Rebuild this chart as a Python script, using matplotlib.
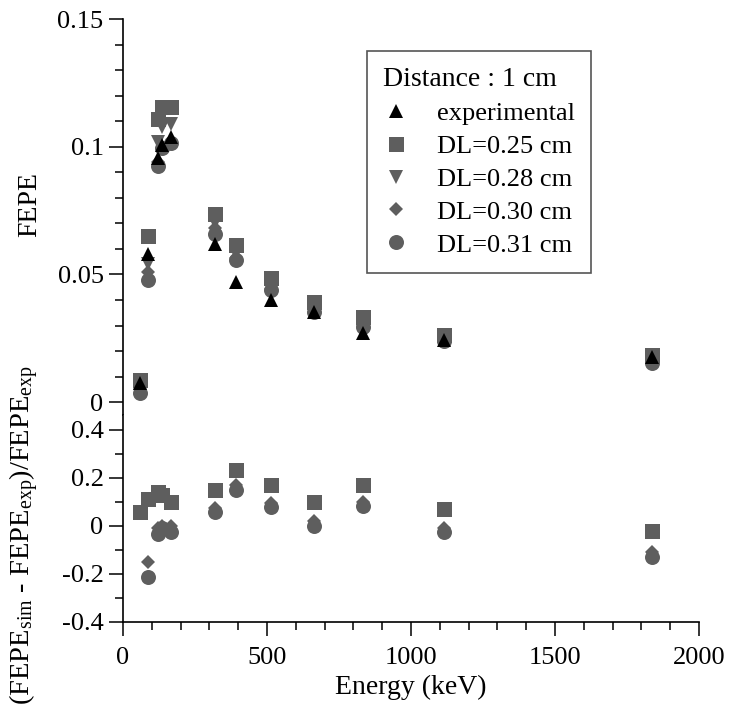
import numpy as np
import matplotlib
matplotlib.use("Agg")
import matplotlib.pyplot as plt
from matplotlib.ticker import FixedLocator, MultipleLocator, FuncFormatter

plt.rcParams['font.family'] = ['Liberation Serif', 'DejaVu Serif']
plt.rcParams['mathtext.fontset'] = 'custom'
plt.rcParams['mathtext.rm'] = 'Liberation Serif'
plt.rcParams['mathtext.it'] = 'Liberation Serif:italic'
plt.rcParams['axes.unicode_minus'] = False

# ---------------- data ----------------
energy = [59.5, 88, 122, 136, 166, 320, 392, 514, 662, 835, 1115, 1836]

fepe_exp = [0.0074, 0.058, 0.0956, 0.1007, 0.1038, 0.062, 0.047, 0.040, 0.0353, 0.027, 0.0243, 0.0177]
fepe_025 = [0.0086, 0.065, 0.1108, 0.1156, 0.1156, 0.0736, 0.0615, 0.0486, 0.0392, 0.0333, 0.0262, 0.0184]
fepe_028 = [0.0060, 0.054, 0.1020, 0.1077, 0.1090, 0.0700, 0.0580, 0.0460, 0.0375, 0.0305, 0.0250, 0.0165]
fepe_030 = [0.0050, 0.051, 0.0940, 0.0995, 0.1020, 0.0680, 0.0565, 0.0445, 0.0365, 0.0300, 0.0245, 0.0160]
fepe_031 = [0.0035, 0.048, 0.0924, 0.0995, 0.1014, 0.0660, 0.0556, 0.0439, 0.0355, 0.0295, 0.0240, 0.0153]

rel_025 = [0.058, 0.1125, 0.14, 0.13, 0.10, 0.15, 0.233, 0.17, 0.10, 0.17, 0.07, -0.02]
rel_030 = [-0.50, -0.15, -0.01, 0.0, 0.0, 0.075, 0.17, 0.095, 0.02, 0.10, -0.01, -0.11]
rel_031 = [-0.55, -0.213, -0.035, -0.01, -0.025, 0.058, 0.15, 0.08, 0.0, 0.085, -0.025, -0.13]

labels = ['experimental', 'DL=0.25 cm', 'DL=0.28 cm', 'DL=0.30 cm', 'DL=0.31 cm']
legend_title = 'Distance : 1 cm'

x_ticks = [0, 500, 1000, 1500, 2000]
top_ticks = [0, 0.05, 0.1, 0.15]
bot_ticks = [-0.4, -0.2, 0, 0.2, 0.4]

# ---------------- figure ----------------
W, H = 729, 715
fig = plt.figure(figsize=(W / 100, H / 100), dpi=100)

def rect(l, t, r, b):
    return [l / W, 1 - b / H, (r - l) / W, (b - t) / H]

ax1 = fig.add_axes(rect(123, 19, 699, 415))
ax2 = fig.add_axes(rect(123, 415, 699, 622), sharex=ax1)

grey = '#5e5e5e'
ms_sq, ms_tri, ms_d, ms_o = 10.8, 9.8, 7.0, 10.8

h25, = ax1.plot(energy, fepe_025, 's', color=grey, ms=ms_sq, mew=0, ls='none')
h28, = ax1.plot(energy, fepe_028, 'v', color=grey, ms=ms_tri, mew=0, ls='none')
h30, = ax1.plot(energy, fepe_030, 'D', color=grey, ms=ms_d, mew=0, ls='none')
h31, = ax1.plot(energy, fepe_031, 'o', color=grey, ms=ms_o, mew=0, ls='none')
hex_, = ax1.plot(energy, fepe_exp, '^', color='black', ms=ms_tri, mew=0, ls='none')

ax2.plot(energy, rel_025, 's', color=grey, ms=ms_sq, mew=0, ls='none')
ax2.plot(energy, rel_030, 'D', color=grey, ms=ms_d, mew=0, ls='none')
ax2.plot(energy, rel_031, 'o', color=grey, ms=ms_o, mew=0, ls='none')

ax1.set_xlim(0, 2000)
ax1.set_ylim(-0.005, 0.15)
ax2.set_ylim(-0.4, 0.4625)

fmt = FuncFormatter(lambda v, p: ('%g' % round(v, 4)))

for ax in (ax1, ax2):
    ax.spines['top'].set_visible(False)
    ax.spines['right'].set_visible(False)
    ax.spines['left'].set_linewidth(1.2)
    ax.spines['bottom'].set_linewidth(1.2)
    ax.tick_params(which='major', direction='out', length=10, width=1.1,
                   labelsize=19, pad=4)
    ax.tick_params(which='minor', direction='out', length=5.5, width=1.1)

ax1.spines['bottom'].set_visible(False)
ax1.tick_params(axis='x', which='both', bottom=False, labelbottom=False)

ax1.yaxis.set_major_locator(FixedLocator(top_ticks))
ax1.yaxis.set_minor_locator(MultipleLocator(0.01))
ax1.yaxis.set_major_formatter(fmt)

ax2.yaxis.set_major_locator(FixedLocator(bot_ticks))
ax2.yaxis.set_minor_locator(MultipleLocator(0.1))
ax2.yaxis.set_major_formatter(fmt)

ax2.xaxis.set_major_locator(FixedLocator(x_ticks))
ax2.xaxis.set_minor_locator(MultipleLocator(100))
ax2.xaxis.set_major_formatter(fmt)
ax2.tick_params(axis='x', which='major', pad=8)

ax2.set_xlabel('Energy (keV)', fontsize=20, labelpad=4)

fig.text(30 / W, 1 - 205 / H, 'FEPE', rotation=90, ha='center', va='center', fontsize=20)
fig.text(24 / W, 1 - 535 / H,
         r'(FEPE$_{\mathrm{sim}}$ - FEPE$_{\mathrm{exp}}$)/FEPE$_{\mathrm{exp}}$',
         rotation=90, ha='center', va='center', fontsize=20.5)

leg = ax1.legend([hex_, h25, h28, h30, h31], labels, title=legend_title,
                 loc='upper left', bbox_to_anchor=(367 / W, 1 - 51 / H),
                 bbox_transform=fig.transFigure, borderaxespad=0,
                 fontsize=19, title_fontsize=20, alignment='left',
                 frameon=True, fancybox=False, edgecolor='#555555',
                 framealpha=1, handlelength=1.0, handletextpad=1.05,
                 labelspacing=0.36, borderpad=0.6)
leg.get_frame().set_linewidth(1.2)

fig.savefig('out.png', dpi=100)
